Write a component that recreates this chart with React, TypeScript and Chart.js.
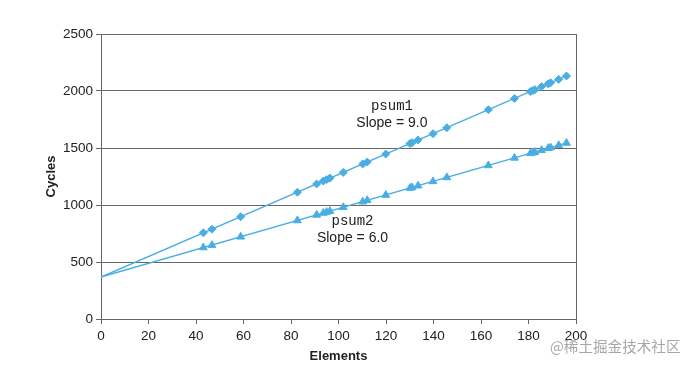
import React, { useEffect, useRef } from "react";
import { Chart, registerables } from "chart.js";

Chart.register(...registerables);

const elements = [43.1, 46.7, 58.8, 82.7, 90.8, 93.6, 95.0, 96.4, 102.0, 110.2, 112.1, 119.9, 130.1, 131.0, 133.5, 139.8, 145.6, 163.1, 174.1, 180.8, 181.9, 182.7, 185.5, 188.3, 189.3, 192.7, 196.0];
const psum1Cycles = [756, 788, 897, 1112, 1185, 1210, 1223, 1236, 1286, 1360, 1377, 1447, 1539, 1547, 1570, 1626, 1678, 1836, 1935, 1995, 2005, 2012, 2038, 2063, 2072, 2102, 2132];
const psum2Cycles = [627, 648, 721, 864, 913, 930, 938, 946, 980, 1029, 1041, 1087, 1149, 1154, 1169, 1207, 1242, 1347, 1413, 1453, 1459, 1464, 1481, 1498, 1504, 1524, 1544];
const fitX = [0, 196];
const psum1Fit = [368, 2132];
const psum2Fit = [368, 1544];
const xTicks = [0, 20, 40, 60, 80, 100, 120, 140, 160, 180, 200];
const yTicks = [0, 500, 1000, 1500, 2000, 2500];

const labels = [
  { x: 122.5, y: 1862, text: "psum1", mono: true },
  { x: 122.5, y: 1722, text: "Slope = 9.0", mono: false },
  { x: 105.9, y: 853, text: "psum2", mono: true },
  { x: 105.9, y: 713, text: "Slope = 6.0", mono: false },
];

const BLUE = "#4aaee2";
const GRID = "#666666";
const SANS = "'Liberation Sans', Arial, Helvetica, sans-serif";

const pts = (xs: number[], ys: number[]) => xs.map((x, i) => ({ x, y: ys[i] }));

export default function App() {
  const ref = useRef<HTMLCanvasElement | null>(null);
  useEffect(() => {
    if (!ref.current) return;
    const extras = {
      id: "extras",
      afterDatasetsDraw(chart: any) {
        const { ctx, chartArea, scales } = chart;
        ctx.save();
        ctx.strokeStyle = GRID;
        ctx.lineWidth = 1;
        ctx.beginPath();
        ctx.moveTo(Math.round(chartArea.right) + 0.5, chartArea.top);
        ctx.lineTo(Math.round(chartArea.right) + 0.5, chartArea.bottom);
        ctx.stroke();
        ctx.fillStyle = "#222";
        ctx.textAlign = "center";
        ctx.textBaseline = "middle";
        for (const l of labels) {
          ctx.font = l.mono ? "14px 'Liberation Mono', 'Courier New', monospace" : `14px ${SANS}`;
          ctx.fillText(l.text, scales.x.getPixelForValue(l.x), scales.y.getPixelForValue(l.y));
        }
        ctx.restore();
      },
      afterDraw(chart: any) {
        const { ctx } = chart;
        ctx.save();
        ctx.font = "14.6px 'Noto Sans CJK SC', sans-serif";
        ctx.fillStyle = "rgba(150,150,150,0.85)";
        ctx.textAlign = "left";
        ctx.textBaseline = "middle";
        ctx.fillText("@稀土掘金技术社区", 550, 346);
        ctx.restore();
      },
    };
    const chart = new Chart(ref.current, {
      type: "scatter",
      data: {
        datasets: [
          { label: "psum1 fit", data: pts(fitX, psum1Fit), showLine: true, borderColor: BLUE, borderWidth: 1.3, pointRadius: 0 },
          { label: "psum2 fit", data: pts(fitX, psum2Fit), showLine: true, borderColor: BLUE, borderWidth: 1.3, pointRadius: 0 },
          { label: "psum1", data: pts(elements, psum1Cycles), showLine: false, pointStyle: "rectRot", pointRadius: 4, backgroundColor: BLUE, borderColor: BLUE, borderWidth: 1 },
          { label: "psum2", data: pts(elements, psum2Cycles), showLine: false, pointStyle: "triangle", pointRadius: 4.5, backgroundColor: BLUE, borderColor: BLUE, borderWidth: 1 },
        ],
      },
      options: {
        animation: false,
        responsive: false,
        maintainAspectRatio: false,
        layout: { padding: { top: 34, right: 117, left: 0, bottom: 0 } },
        plugins: { legend: { display: false }, tooltip: { enabled: false } },
        scales: {
          x: {
            type: "linear",
            min: 0,
            max: 200,
            afterBuildTicks: (s: any) => { s.ticks = xTicks.map((v) => ({ value: v })); },
            afterFit: (s: any) => { s.height = 47; },
            ticks: { color: "#222", font: { family: SANS, size: 13.5 }, padding: 4, maxRotation: 0, callback: (v: any) => String(v) },
            grid: { display: true, drawOnChartArea: false, drawTicks: true, tickLength: 5, color: GRID },
            border: { display: true, color: GRID, width: 1 },
            title: { display: true, text: "Elements", color: "#222", font: { family: SANS, size: 13, weight: "bold" }, padding: { top: 0, bottom: 2 } },
          },
          y: {
            type: "linear",
            min: 0,
            max: 2500,
            afterBuildTicks: (s: any) => { s.ticks = yTicks.map((v) => ({ value: v })); },
            afterFit: (s: any) => { s.width = 101; },
            ticks: { color: "#222", font: { family: SANS, size: 13.5 }, padding: 3, callback: (v: any) => String(v) },
            grid: { display: true, drawOnChartArea: true, drawTicks: true, tickLength: 5, color: GRID, lineWidth: 1 },
            border: { display: true, color: GRID, width: 1 },
            title: { display: true, text: "Cycles", color: "#222", font: { family: SANS, size: 13, weight: "bold" }, padding: { top: 44, bottom: 0 } },
          },
        },
      },
      plugins: [extras],
    } as any);
    return () => chart.destroy();
  }, []);
  return (
    <div style={{ position: "fixed", left: 0, top: 0, width: 693, height: 366, background: "#fff" }}>
      <canvas ref={ref} width={693} height={366} style={{ width: 693, height: 366, display: "block" }} />
    </div>
  );
}
